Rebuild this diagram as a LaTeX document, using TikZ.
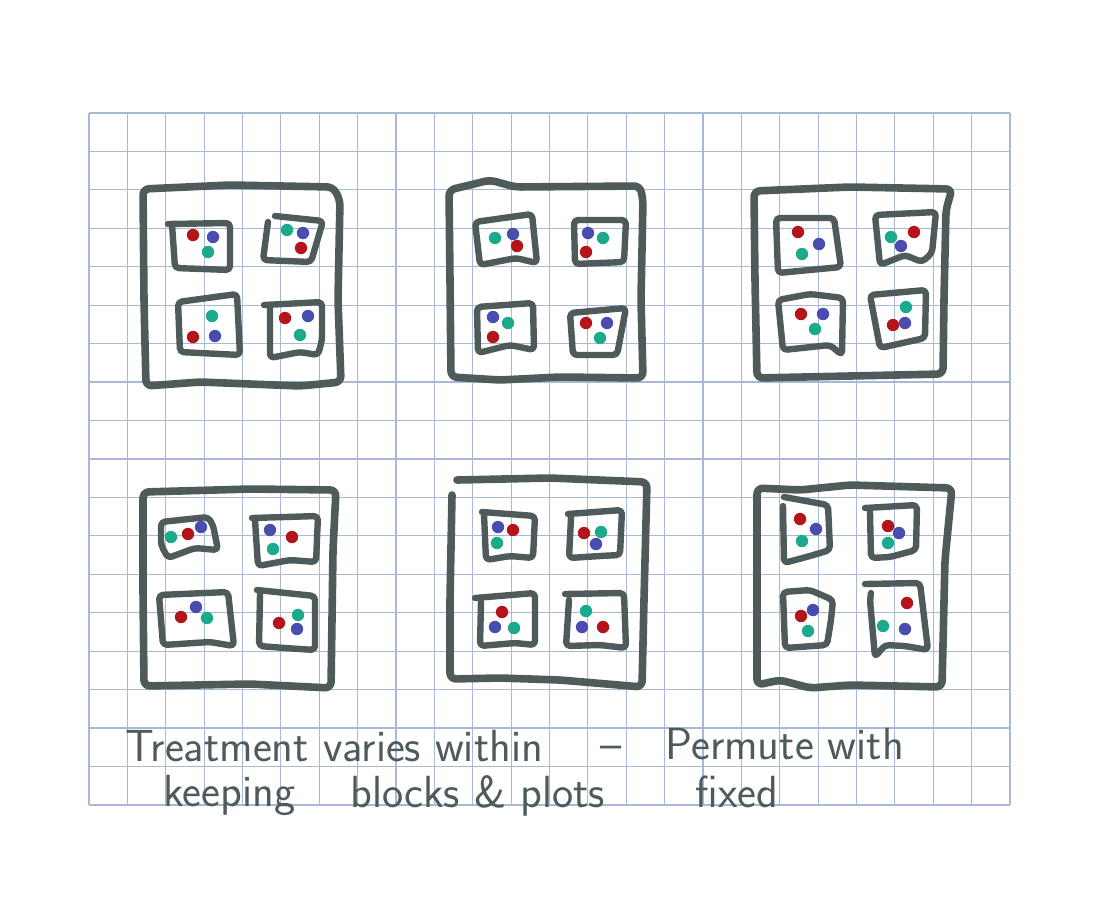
\documentclass[tikz,border=0pt]{standalone}
\usepackage{tikz}
\definecolor{ink}{HTML}{4F5B5B}
\definecolor{paper}{HTML}{A7B9D6}
\definecolor{trtA}{HTML}{B5141B}
\definecolor{trtB}{HTML}{4A4DB0}
\definecolor{trtC}{HTML}{1BAA8C}
\tikzset{
x=0.5pt, y=-0.5pt, % one unit is one pixel of the sketch
gridline/.style={paper, line width=0.6pt}, % the squared paper
block/.style={ink, line width=3.8pt, line cap=round, line join=round, rounded corners=3pt}, % outer blocks
plotbox/.style={ink, line width=3.2pt, line cap=round, line join=round, rounded corners=2pt}, % plots inside a block
note/.style={ink, font=\sffamily\fontsize{22.5}{27}\selectfont, anchor=base west, inner sep=0pt}, % handwriting
}
\newcommand{\seeds}[1]{\foreach \px/\py/\c in {#1} \fill[\c] (\px,\py) circle[radius=3.1pt];}

\begin{document}
\begin{tikzpicture}
\useasboundingbox (0,0) rectangle (1100,918);
% squared paper
\foreach \i in {0,...,24} \draw[gridline] ({89+38.375*\i},113) -- ({89+38.375*\i},805);
\foreach \j in {0,...,18} \draw[gridline] (89,{113+38.44*\j}) -- (1010,{113+38.44*\j});

% block 1
\draw[block] (143,189) -- (230,185) -- (333,187) -- (340,200) -- (338,300) -- (341,382) -- (300,386) -- (200,382) -- (146,386) -- (144,300) -- cycle;
\draw[plotbox] (168,224) -- (230,223) -- (230,270) -- (175,268) -- (172,224);
\draw[plotbox] (275,216) -- (323,221) -- (311,262) -- (263,260) -- (268,222);
\draw[plotbox] (178,302) -- (237,294) -- (240,355) -- (180,352) -- cycle;
\draw[plotbox] (264,305) -- (322,302) -- (322,340) -- (318,355) -- (300,352) -- (270,358) -- (270,306);
\seeds{193/235/trtA, 213/237/trtB, 208/252/trtC, 287/230/trtC, 303/233/trtB, 301/248/trtA,
 212/316/trtC, 193/337/trtA, 215/336/trtB, 285/318/trtA, 308/316/trtB, 300/335/trtC}

% block 2
\draw[block] (449,190) -- (470,185) -- (490,180) -- (515,187) -- (640,186) -- (643,200) -- (641,300) -- (643,378) -- (560,377) -- (500,380) -- (451,377) -- (450,280) -- cycle;
\draw[plotbox] (475,222) -- (532,214) -- (537,263) -- (516,258) -- (480,265) -- cycle;
\draw[plotbox] (574,220) -- (626,220) -- (624,262) -- (575,264) -- cycle;
\draw[plotbox] (477,307) -- (533,303) -- (534,350) -- (510,345) -- (478,353) -- cycle;
\draw[plotbox] (570,313) -- (626,308) -- (617,355) -- (573,355) -- cycle;
\seeds{495/238/trtC, 513/234/trtB, 517/246/trtA, 588/233/trtB, 603/238/trtC, 586/252/trtA,
 493/317/trtB, 508/323/trtC, 493/337/trtA, 586/323/trtA, 607/323/trtB, 600/338/trtC}

% block 3
\draw[block] (754,191) -- (850,187) -- (952,189) -- (946,210) -- (944,300) -- (943,374) -- (850,376) -- (757,378) -- (755,280) -- cycle;
\draw[plotbox] (776,218) -- (834,218) -- (841,267) -- (778,273) -- cycle;
\draw[plotbox] (875,215) -- (936,212) -- (932,253) -- (922,262) -- (905,255) -- (880,265) -- cycle;
\draw[plotbox] (778,300) -- (810,294) -- (843,298) -- (842,355) -- (830,345) -- (783,350) -- cycle;
\draw[plotbox] (870,295) -- (926,290) -- (925,338) -- (880,348) -- cycle;
\seeds{798/232/trtA, 819/244/trtB, 802/254/trtC, 891/237/trtC, 914/232/trtA, 901/246/trtB,
 801/314/trtA, 823/314/trtB, 815/329/trtC, 906/307/trtC, 893/325/trtA, 905/323/trtB}

% block 4
\draw[block] (143,492) -- (180,491) -- (250,489) -- (336,490) -- (333,550) -- (331,688) -- (250,684) -- (144,686) -- (143,590) -- cycle;
\draw[plotbox] (161,522) -- (208,517) -- (213,525) -- (218,550) -- (195,548) -- (168,558) -- (161,545) -- cycle;
\draw[plotbox] (252,518) -- (318,516) -- (316,562) -- (290,560) -- (258,566) -- (255,520);
\draw[plotbox] (159,595) -- (228,592) -- (234,646) -- (210,642) -- (163,645) -- cycle;
\draw[plotbox] (257,590) -- (315,596) -- (315,650) -- (285,648) -- (259,646) -- (260,595);
\seeds{171/537/trtC, 188/534/trtA, 201/527/trtB, 270/530/trtB, 292/537/trtA, 273/549/trtC,
 181/617/trtA, 196/607/trtB, 207/618/trtC, 279/623/trtA, 298/615/trtC, 297/629/trtB}

% block 5
\draw[block] (452,495) -- (450,600) -- (450,679) -- (500,678) -- (560,680) -- (642,687) -- (644,600) -- (647,482) -- (550,478) -- (457,480);
\draw[plotbox] (482,512) -- (535,516) -- (533,558) -- (510,556) -- (486,560) -- (484,514);
\draw[plotbox] (568,514) -- (622,510) -- (620,555) -- (600,556) -- (569,558) -- (571,518);
\draw[plotbox] (475,598) -- (535,593) -- (535,645) -- (515,643) -- (480,646) -- (481,602);
\draw[plotbox] (565,594) -- (624,593) -- (626,648) -- (600,645) -- (566,646) -- (569,600);
\seeds{498/527/trtB, 513/530/trtA, 497/543/trtC, 584/533/trtA, 601/532/trtC, 596/544/trtB,
 502/612/trtA, 495/627/trtB, 514/628/trtC, 586/611/trtC, 582/627/trtB, 603/627/trtA}

% block 6
\draw[block] (757,488) -- (800,490) -- (850,485) -- (952,488) -- (945,560) -- (942,687) -- (850,685) -- (810,688) -- (780,680) -- (757,685) -- (757,590) -- cycle;
\draw[plotbox] (784,497) -- (828,505) -- (830,550) -- (810,556) -- (784,563) -- (783,506);
\draw[plotbox] (865,508) -- (917,505) -- (916,550) -- (890,557) -- (871,558) -- (870,512);
\draw[plotbox] (783,592) -- (810,590) -- (833,600) -- (831,620) -- (827,645) -- (785,648) -- cycle;
\draw[plotbox] (865,584) -- (920,583) -- (928,650) -- (905,646) -- (885,645) -- (875,657) -- (870,600) -- (871,593);
\seeds{800/519/trtA, 816/529/trtB, 802/541/trtC, 888/526/trtA, 899/533/trtB, 888/543/trtC,
 801/616/trtA, 813/610/trtB, 808/631/trtC, 907/603/trtA, 883/626/trtC, 905/629/trtB}

% caption
\node[note] (lineA) at (125,761) {Treatment varies within};
\node[note] (dash) at (600,759) {--};
\node[note] (lineB) at (665,759) {Permute with};
\node[note] (keep) at (163,806) {keeping};
\node[note] (fix) at (350,807) {blocks \& plots};
\node[note] (fixed) at (695,807) {fixed};
\end{tikzpicture}
\end{document}
